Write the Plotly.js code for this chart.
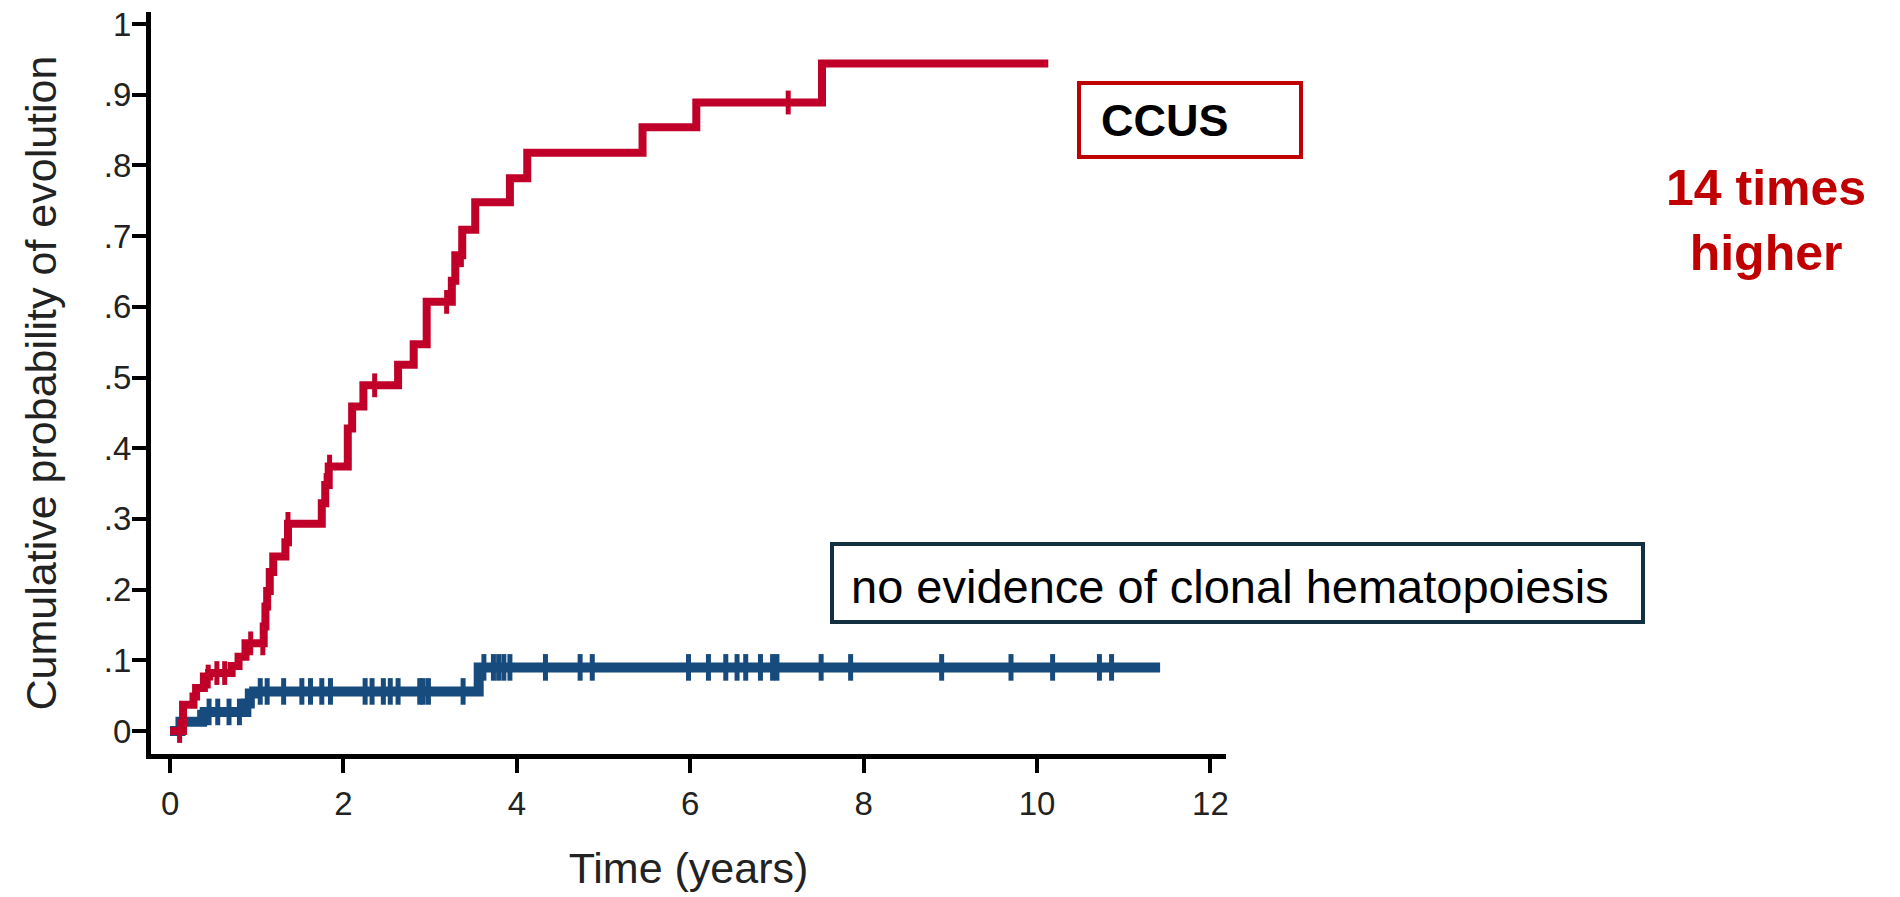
<!DOCTYPE html>
<html>
<head>
<meta charset="utf-8">
<script src="https://cdn.plot.ly/plotly-3.0.1.min.js"></script>
<style>html,body{margin:0;padding:0;background:#fff;}#chart{width:1900px;height:897px;}</style>
</head>
<body>
<div id="chart"></div>
<script>
// ---- Data (Kaplan-Meier style cumulative incidence) ----
const ccusTime = [0, 0.15, 0.27, 0.30, 0.39, 0.45, 0.71, 0.79, 0.87, 1.08, 1.10, 1.12, 1.15, 1.19, 1.33, 1.36, 1.75, 1.79, 1.83, 2.05, 2.10, 2.23, 2.63, 2.81, 2.96, 3.25, 3.29, 3.37, 3.52, 3.92, 4.12, 5.45, 6.07, 7.52, 10.13];
const ccusProb = [0, 0.037, 0.049, 0.061, 0.077, 0.082, 0.092, 0.105, 0.124, 0.148, 0.176, 0.198, 0.225, 0.247, 0.267, 0.293, 0.322, 0.348, 0.374, 0.428, 0.459, 0.489, 0.518, 0.547, 0.607, 0.637, 0.673, 0.709, 0.748, 0.782, 0.818, 0.854, 0.889, 0.944, 0.944];
const ccusCensored = [0.11, 0.44, 0.54, 0.63, 0.93, 1.07, 1.36, 1.80, 1.84, 2.36, 3.19, 3.36, 7.13];

const noChTime = [0, 0.12, 0.37, 0.40, 0.88, 0.92, 0.97, 3.56, 11.42];
const noChProb = [0, 0.013, 0.023, 0.027, 0.039, 0.053, 0.056, 0.090, 0.090];
const noChCensored = [0.45, 0.55, 0.68, 0.80, 1.04, 1.12, 1.31, 1.52, 1.62, 1.75, 1.85, 2.25, 2.33, 2.46, 2.54, 2.63, 2.88, 2.92, 2.98, 3.38, 3.62, 3.73, 3.79, 3.85, 3.92, 4.33, 4.73, 4.87, 5.98, 6.21, 6.41, 6.54, 6.64, 6.81, 6.95, 7.00, 7.51, 7.85, 8.90, 9.70, 10.18, 10.72, 10.86];

const xTickVals = [0, 2, 4, 6, 8, 10, 12];
const xTickText = ['0', '2', '4', '6', '8', '10', '12'];
const yTickVals = [0, 0.1, 0.2, 0.3, 0.4, 0.5, 0.6, 0.7, 0.8, 0.9, 1];
const yTickText = ['0', '.1', '.2', '.3', '.4', '.5', '.6', '.7', '.8', '.9', '1'];

const labelCCUS = 'CCUS';
const labelNoCH = 'no evidence of clonal hematopoiesis';
const labelRatio = '14 times<br>higher';
const xTitle = 'Time (years)';
const yTitle = 'Cumulative probability of evolution';

// ---- helpers ----
function stepAt(times, probs, t) {
  let p = probs[0];
  for (let i = 0; i < times.length; i++) { if (times[i] <= t) p = probs[i]; }
  return p;
}
const RED = '#c1002a';
const BLUE = '#174b7d';
const arial = '"Liberation Sans", Arial, Helvetica, sans-serif';

// plot area in px (for placing the decorative boxes)
const W = 1900, H = 897, L = 151, R = 674, T = 12, B = 143;
const PW = W - L - R, PH = H - T - B;
const px = x => (x - L) / PW;
const py = y => 1 - (y - T) / PH;

const traces = [
  {x: noChTime, y: noChProb, mode: 'lines', line: {shape: 'hv', color: BLUE, width: 10}, hoverinfo: 'skip', showlegend: false},
  {x: noChCensored, y: noChCensored.map(t => stepAt(noChTime, noChProb, t)), mode: 'markers',
   marker: {symbol: 'line-ns-open', size: 19, color: BLUE, line: {color: BLUE, width: 5}}, hoverinfo: 'skip', showlegend: false},
  {x: ccusTime, y: ccusProb, mode: 'lines', line: {shape: 'hv', color: RED, width: 8}, hoverinfo: 'skip', showlegend: false},
  {x: ccusCensored, y: ccusCensored.map(t => stepAt(ccusTime, ccusProb, t)), mode: 'markers',
   marker: {symbol: 'line-ns-open', size: 17, color: RED, line: {color: RED, width: 5}}, hoverinfo: 'skip', showlegend: false}
];

const layout = {
  width: W, height: H,
  margin: {l: L, r: R, t: T, b: B, pad: 0},
  paper_bgcolor: '#fff', plot_bgcolor: '#fff',
  showlegend: false,
  xaxis: {
    range: [-0.22, 12.18], tickvals: xTickVals, ticktext: xTickText,
    showline: true, linewidth: 5, linecolor: '#000', zeroline: false, showgrid: false,
    ticks: 'outside', ticklen: 14, tickwidth: 4, tickcolor: '#000',
    tickfont: {family: arial, size: 33, color: '#222'}, ticklabelstandoff: 2,
    title: {text: xTitle, font: {family: arial, size: 43, color: '#222'}, standoff: 34},
    fixedrange: true
  },
  yaxis: {
    range: [-0.0325, 1.017], tickvals: yTickVals, ticktext: yTickText,
    showline: true, linewidth: 5, linecolor: '#000', zeroline: false, showgrid: false,
    ticks: 'outside', ticklen: 14, tickwidth: 4, tickcolor: '#000',
    tickfont: {family: arial, size: 33, color: '#222'}, ticklabelstandoff: -6,
    title: {text: yTitle, font: {family: arial, size: 43, color: '#222'}, standoff: 35},
    fixedrange: true
  },
  shapes: [
    {type: 'rect', xref: 'paper', yref: 'paper', x0: px(1079), x1: px(1301), y0: py(157), y1: py(83),
     line: {color: '#c00000', width: 4}, fillcolor: 'rgba(0,0,0,0)'},
    {type: 'rect', xref: 'paper', yref: 'paper', x0: px(832), x1: px(1643), y0: py(622), y1: py(544),
     line: {color: '#12303f', width: 4}, fillcolor: 'rgba(0,0,0,0)'}
  ],
  annotations: [
    {xref: 'paper', yref: 'paper', x: px(1099), y: py(121), xanchor: 'left', yanchor: 'middle',
     text: labelCCUS, showarrow: false, font: {family: arial, size: 45, color: '#000', weight: 'bold'}},
    {xref: 'paper', yref: 'paper', x: px(849), y: py(586), xanchor: 'left', yanchor: 'middle',
     text: labelNoCH, showarrow: false, font: {family: arial, size: 47, color: '#000'}},
    {xref: 'paper', yref: 'paper', x: px(1766), y: py(220), xanchor: 'center', yanchor: 'middle',
     text: labelRatio, showarrow: false, align: 'center', font: {family: arial, size: 50, color: '#c00000', weight: 'bold'}}
  ]
};

Plotly.newPlot('chart', traces, layout, {staticPlot: true, displayModeBar: false});
</script>
</body>
</html>
